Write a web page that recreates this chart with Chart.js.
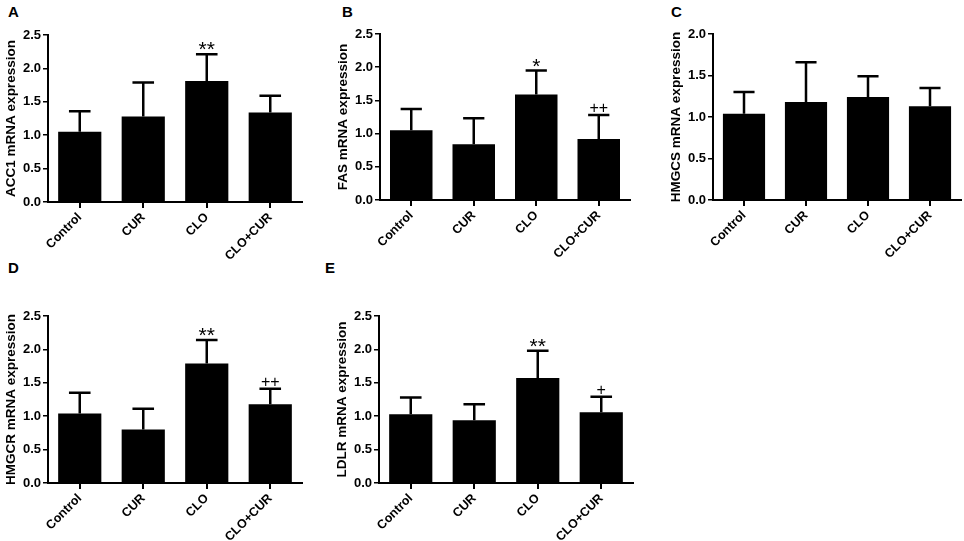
<!DOCTYPE html>
<html>
<head>
<meta charset="utf-8">
<script src="https://cdn.jsdelivr.net/npm/chart.js@4.4.1/dist/chart.umd.min.js"></script>
<style>
  body { margin: 0; background: #fff; }
  #wrap { position: relative; width: 964px; height: 541px; overflow: hidden; }
  canvas { position: absolute; }
  .letter { position: absolute; font: bold 15px "Liberation Sans", Arial, sans-serif; color: #000; }
</style>
</head>
<body>
<div id="wrap">
  <div class="letter" style="left:8px;top:3px">A</div>
  <div class="letter" style="left:342px;top:3px">B</div>
  <div class="letter" style="left:671px;top:3px">C</div>
  <div class="letter" style="left:8px;top:259px">D</div>
  <div class="letter" style="left:325px;top:259px">E</div>
  <canvas id="chartA"></canvas>
  <canvas id="chartB"></canvas>
  <canvas id="chartC"></canvas>
  <canvas id="chartD"></canvas>
  <canvas id="chartE"></canvas>
</div>
<script>
const categories = ['Control', 'CUR', 'CLO', 'CLO+CUR'];

const acc1Mean = [1.05, 1.28, 1.81, 1.34];
const acc1Sd = [0.31, 0.51, 0.40, 0.25];
const acc1Marks = ['', '', '**', ''];

const fasMean = [1.05, 0.84, 1.59, 0.92];
const fasSd = [0.32, 0.39, 0.36, 0.36];
const fasMarks = ['', '', '*', '++'];

const hmgcsMean = [1.04, 1.18, 1.24, 1.13];
const hmgcsSd = [0.26, 0.48, 0.25, 0.22];
const hmgcsMarks = ['', '', '', ''];

const hmgcrMean = [1.04, 0.80, 1.79, 1.18];
const hmgcrSd = [0.31, 0.31, 0.35, 0.23];
const hmgcrMarks = ['', '', '**', '++'];

const ldlrMean = [1.03, 0.94, 1.57, 1.06];
const ldlrSd = [0.25, 0.24, 0.41, 0.23];
const ldlrMarks = ['', '', '**', '+'];

const FONT = '"Liberation Sans", Arial, sans-serif';
const Y_AXIS_W = 45;
const X_AXIS_H = 66;

// error bars (upper only) and significance marks
const errorBarPlugin = {
  id: 'errorBars',
  afterDatasetsDraw(chart, args, opts) {
    const ctx = chart.ctx;
    const yScale = chart.scales.y;
    const meta = chart.getDatasetMeta(0);
    ctx.save();
    ctx.strokeStyle = '#000';
    ctx.lineWidth = 2.5;
    meta.data.forEach((bar, i) => {
      const mean = opts.mean[i];
      const top = yScale.getPixelForValue(mean + opts.sd[i]);
      const base = yScale.getPixelForValue(mean);
      const half = bar.width / 4;
      ctx.beginPath();
      ctx.moveTo(bar.x, base);
      ctx.lineTo(bar.x, top);
      ctx.moveTo(bar.x - half, top);
      ctx.lineTo(bar.x + half, top);
      ctx.stroke();
      const m = opts.marks[i];
      if (m) {
        ctx.fillStyle = '#000';
        ctx.textAlign = 'center';
        ctx.textBaseline = 'alphabetic';
        if (m.indexOf('*') >= 0) {
          ctx.font = '21px ' + FONT;
          ctx.fillText(m, bar.x, top + 2);
        } else {
          ctx.font = '16px ' + FONT;
          ctx.fillText(m, bar.x, top - 2);
        }
      }
    });
    ctx.restore();
  }
};

function makeChart(id, area, title, mean, sd, marks, yMax) {
  const canvas = document.getElementById(id);
  const left = area.left - Y_AXIS_W;
  const top = area.top - 20;
  const width = area.right - left + 4;
  const height = area.bottom - top + X_AXIS_H;
  canvas.style.left = left + 'px';
  canvas.style.top = top + 'px';
  canvas.style.width = width + 'px';
  canvas.style.height = height + 'px';
  canvas.width = width;
  canvas.height = height;

  return new Chart(canvas.getContext('2d'), {
    type: 'bar',
    data: {
      labels: categories,
      datasets: [{
        data: mean,
        backgroundColor: '#000',
        borderWidth: 0,
        categoryPercentage: 1,
        barPercentage: 0.68
      }]
    },
    options: {
      responsive: false,
      animation: false,
      layout: { padding: { left: 0, top: 20, right: 4, bottom: 0 } },
      plugins: {
        legend: { display: false },
        tooltip: { enabled: false },
        errorBars: { mean: mean, sd: sd, marks: marks }
      },
      scales: {
        x: {
          afterFit: s => { s.height = X_AXIS_H; },
          border: { display: true, color: '#000', width: 2 },
          grid: { display: true, drawOnChartArea: false, drawTicks: true, tickLength: 6, offset: false, color: '#000', lineWidth: 2 },
          ticks: {
            color: '#000',
            font: { family: FONT, size: 12.5, weight: 'bold' },
            minRotation: 45,
            maxRotation: 45,
            padding: 2,
            autoSkip: false
          }
        },
        y: {
          min: 0,
          max: yMax,
          afterFit: s => { s.width = Y_AXIS_W; },
          border: { display: true, color: '#000', width: 2 },
          grid: { display: true, drawOnChartArea: false, drawTicks: true, tickLength: 5, color: '#000', lineWidth: 1.5 },
          ticks: {
            stepSize: 0.5,
            color: '#000',
            padding: 2,
            font: { family: FONT, size: 13, weight: 'bold' },
            callback: v => v.toFixed(1)
          },
          title: {
            display: true,
            text: title,
            color: '#000',
            padding: 0,
            font: { family: FONT, size: 13.5, weight: 'bold' }
          }
        }
      }
    },
    plugins: [errorBarPlugin]
  });
}

makeChart('chartA', { left: 48, right: 302, top: 35, bottom: 202 }, 'ACC1 mRNA expression', acc1Mean, acc1Sd, acc1Marks, 2.5);
makeChart('chartB', { left: 380, right: 630, top: 34, bottom: 200 }, 'FAS mRNA expression', fasMean, fasSd, fasMarks, 2.5);
makeChart('chartC', { left: 713, right: 961, top: 34, bottom: 200 }, 'HMGCS mRNA expression', hmgcsMean, hmgcsSd, hmgcsMarks, 2.0);
makeChart('chartD', { left: 48, right: 302, top: 316, bottom: 483 }, 'HMGCR mRNA expression', hmgcrMean, hmgcrSd, hmgcrMarks, 2.5);
makeChart('chartE', { left: 379, right: 633, top: 316, bottom: 483 }, 'LDLR mRNA expression', ldlrMean, ldlrSd, ldlrMarks, 2.5);
</script>
</body>
</html>
